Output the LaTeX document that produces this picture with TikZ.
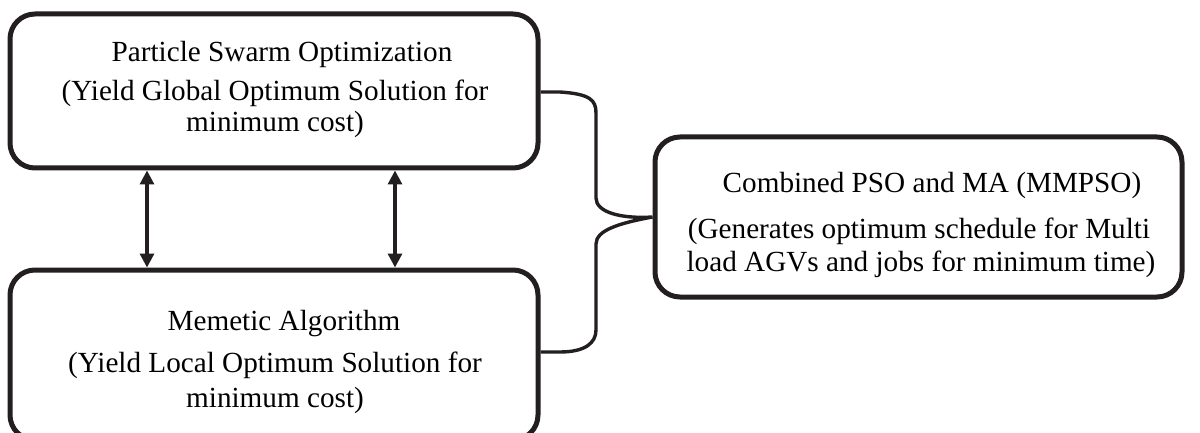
\documentclass[tikz,border=0pt]{standalone}
\usepackage{fontspec}
\setmainfont{Liberation Serif}
\usetikzlibrary{arrows.meta}
\definecolor{ink}{RGB}{35,31,32}
\tikzset{
  panel/.style={draw=ink, line width=2.5pt, rounded corners=12.5pt, inner sep=0pt},
  label/.style={anchor=base, inner sep=0pt, font=\fontsize{14.6pt}{17pt}\selectfont, text=black},
  link/.style={draw=ink, line width=1.6pt, {Triangle[width=7pt,length=7pt]}-{Triangle[width=7pt,length=7pt]}},
  bracket/.style={draw=ink, line width=1.7pt}
}
\begin{document}
\begin{tikzpicture}[x=0.5pt,y=-0.5pt]
  \clip (0,0) rectangle (1200,433);
  \useasboundingbox (0,0) rectangle (1200,433);

  % the three boxes
  \node[panel, minimum width=264pt, minimum height=77pt] (pso) at (274,91) {};
  \node[panel, minimum width=264pt, minimum height=85pt] (ma) at (274,355) {};
  \node[panel, minimum width=263.5pt, minimum height=80pt] (mm) at (918.5,217) {};

  % texts
  \node[label] (psoT) at (282,62) {Particle Swarm Optimization};
  \node[label] (psoA) at (275,101) {(Yield Global Optimum Solution for};
  \node[label] (psoB) at (275,132) {minimum cost)};

  \node[label] (maT) at (284,330) {Memetic Algorithm};
  \node[label] (maA) at (275,372) {(Yield Local Optimum Solution for};
  \node[label] (maB) at (275,407) {minimum cost)};

  \node[label] (mmT) at (932,192) {Combined PSO and MA (MMPSO)};
  \node[label] (mmA) at (919,238) {(Generates optimum schedule for Multi};
  \node[label] (mmB) at (921,271) {load AGVs and jobs for minimum time)};

  % two-way links between the boxes
  \draw[link] (147,0 |- pso.south) -- (147,0 |- ma.north);
  \draw[link] (395,0 |- pso.south) -- (395,0 |- ma.north);

  % bracket joining both boxes into the combined box
  \coordinate (bTop) at (pso.east |- 0,92);
  \coordinate (bBot) at (ma.east |- 0,352);
  \coordinate (bTip) at (mm.west);
  \draw[bracket] (bTop) -- (560,92) .. controls (590,94) and (596,100) .. (596,113)
    -- (596,198) .. controls (596,212) and (620,219) .. (bTip)
    .. controls (620,223) and (596,230) .. (596,244)
    -- (596,330) .. controls (596,343) and (585,352) .. (560,352) -- (bBot);
\end{tikzpicture}
\end{document}
